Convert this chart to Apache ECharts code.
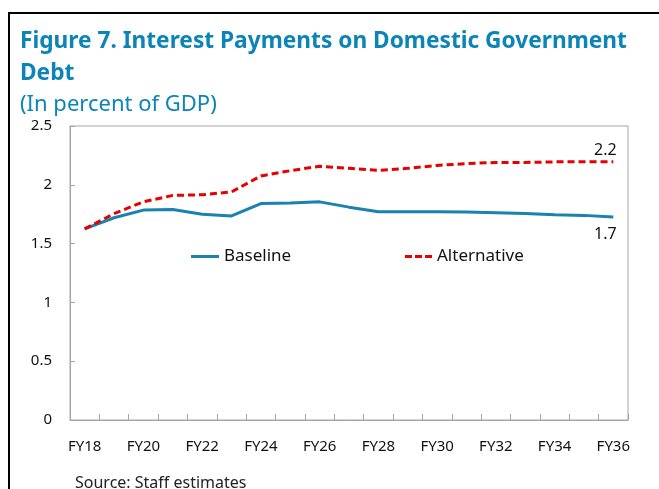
<!DOCTYPE html>
<html>
<head>
<meta charset="utf-8">
<script src="https://cdn.jsdelivr.net/npm/echarts@6/dist/echarts.min.js"></script>
<style>
html,body{margin:0;padding:0;background:#fff;}
#chart{width:659px;height:489px;}
</style>
</head>
<body>
<div id="chart"></div>
<script>
const categories = ['FY18','FY19','FY20','FY21','FY22','FY23','FY24','FY25','FY26','FY27','FY28','FY29','FY30','FY31','FY32','FY33','FY34','FY35','FY36'];
const baseline = [1.625,1.72,1.785,1.79,1.75,1.735,1.84,1.845,1.855,1.81,1.77,1.77,1.77,1.768,1.763,1.755,1.746,1.74,1.726];
const alternative = [1.625,1.755,1.855,1.91,1.915,1.94,2.075,2.12,2.158,2.14,2.122,2.14,2.165,2.18,2.19,2.19,2.195,2.195,2.195];
const yTicks = [0,0.5,1,1.5,2,2.5];
const seriesNames = ['Baseline','Alternative'];
const endLabels = ['1.7','2.2'];

const FONT = 'Noto Sans';
const BLUE = '#1a82b1';
const RED = '#e60000';
const TITLE = '#0b84b8';

function withEndLabel(values, text, pos, offset){
  return values.map((v,i)=> i===values.length-1 ? {
    value: v,
    label: {show:true, formatter:text, position:pos, offset:offset, fontFamily:FONT, fontSize:16, color:'#111'}
  } : v);
}

const chart = echarts.init(document.getElementById('chart'), null, {renderer:'canvas'});
chart.setOption({
  animation:false,
  backgroundColor:'#fff',
  textStyle:{fontFamily:FONT},
  title:[
    {text:'Figure 7. Interest Payments on Domestic Government\nDebt', left:15, top:21,
     textStyle:{fontFamily:FONT, fontWeight:'bold', fontSize:22.7, color:TITLE, lineHeight:32}},
    {text:'(In percent of GDP)', left:15, top:89,
     textStyle:{fontFamily:FONT, fontWeight:'normal', fontSize:22, color:TITLE}},
    {text:'Source: Staff estimates', left:70, top:470,
     textStyle:{fontFamily:FONT, fontWeight:'normal', fontSize:16, color:'#222'}}
  ],
  graphic:[
    {type:'line', shape:{x1:8,y1:13,x2:659,y2:13}, style:{stroke:'#000', lineWidth:2}, silent:true},
    {type:'line', shape:{x1:9,y1:13,x2:9,y2:489}, style:{stroke:'#000', lineWidth:2}, silent:true}
  ],
  legend:[
    {data:[{name:seriesNames[0], icon:'path://M0,0h28v3h-28z'}], left:186, top:243, itemWidth:28, itemHeight:3, itemGap:4,
     textStyle:{fontFamily:FONT, fontSize:17, color:'#111'}},
    {data:[{name:seriesNames[1], icon:'path://M0,0h7v3h-7z M10,0h7v3h-7z M20,0h7v3h-7z'}], left:400, top:243, itemWidth:27, itemHeight:3, itemGap:6,
     textStyle:{fontFamily:FONT, fontSize:17, color:'#111'}}
  ],
  grid:{left:70, right:31, top:126, bottom:69, show:true, borderColor:'#a6a6a6', borderWidth:1},
  xAxis:{
    type:'category', data:categories, boundaryGap:true,
    axisLine:{lineStyle:{color:'#a6a6a6'}},
    axisTick:{show:true, inside:true, length:6, interval:0, lineStyle:{color:'#a6a6a6'}},
    axisLabel:{interval:1, color:'#111', fontFamily:FONT, fontSize:15, margin:19}
  },
  yAxis:{
    type:'value', min:yTicks[0], max:yTicks[yTicks.length-1], interval:0.5,
    axisLine:{show:true, lineStyle:{color:'#a6a6a6'}},
    axisTick:{show:true, inside:true, length:5, lineStyle:{color:'#a6a6a6'}},
    splitLine:{show:false},
    axisLabel:{color:'#111', fontFamily:FONT, fontSize:15, margin:18}
  },
  series:[
    {name:seriesNames[0], type:'line', data:withEndLabel(baseline, endLabels[0], 'bottom', [-8,4]),
     showSymbol:true, symbol:'circle', symbolSize:0, lineStyle:{color:BLUE, width:3}, itemStyle:{color:BLUE}},
    {name:seriesNames[1], type:'line', data:withEndLabel(alternative, endLabels[1], 'top', [-8,2]),
     showSymbol:true, symbol:'circle', symbolSize:0, lineStyle:{color:RED, width:3, type:[7,4]}, itemStyle:{color:RED}}
  ]
});
</script>
</body>
</html>
